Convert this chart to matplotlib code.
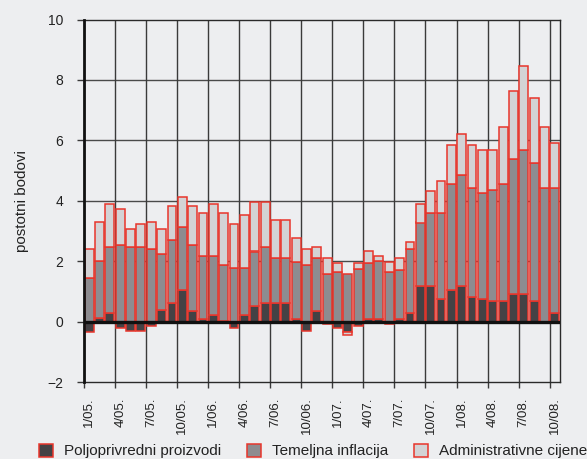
import numpy as np
import matplotlib.pyplot as plt

plt.rcParams['font.family'] = ['Liberation Sans', 'DejaVu Sans']

# monthly contributions, 1/2005 - 10/2008 (percentage points)
agri = np.array([-0.36, 0.13, 0.30, -0.22, -0.30, -0.30, -0.14, 0.37, 0.60, 1.03,
                 0.36, 0.08, 0.22, 0.02, -0.22, 0.22, 0.52, 0.60, 0.60, 0.60,
                 0.08, -0.30, 0.36, -0.08, -0.22, -0.36, -0.14, 0.08, 0.08, -0.08,
                 0.08, 0.30, 1.19, 1.19, 0.74, 1.04, 1.19, 0.82, 0.74, 0.67,
                 0.67, 0.90, 0.90, 0.67, 0.00, 0.30])
core = np.array([1.43, 1.89, 2.18, 2.54, 2.48, 2.48, 2.40, 1.87, 2.10, 2.11,
                 2.18, 2.09, 1.95, 1.85, 1.79, 1.57, 1.80, 1.87, 1.49, 1.49,
                 1.88, 1.87, 1.73, 1.57, 1.65, 1.57, 1.73, 1.87, 1.94, 1.65,
                 1.64, 2.10, 2.09, 2.39, 2.85, 3.53, 3.66, 3.60, 3.53, 3.67,
                 3.90, 4.49, 4.79, 4.57, 4.42, 4.12])
admin = np.array([0.97, 1.27, 1.41, 1.20, 0.58, 0.74, 0.89, 0.82, 1.11, 0.97,
                  1.27, 1.42, 1.72, 1.72, 1.43, 1.73, 1.65, 1.50, 1.28, 1.28,
                  0.80, 0.52, 0.38, 0.52, 0.30, -0.08, 0.22, 0.37, 0.16, 0.31,
                  0.38, 0.22, 0.60, 0.75, 1.05, 1.27, 1.36, 1.42, 1.42, 1.35,
                  1.86, 2.24, 2.77, 2.17, 2.01, 1.49])
tick_labels = ['1/05.', '4/05.', '7/05.', '10/05.', '1/06.', '4/06.', '7/06.', '10/06.',
               '1/07.', '4/07.', '7/07.', '10/07.', '1/08.', '4/08.', '7/08.', '10/08.']
names = ['Poljoprivredni proizvodi', 'Temeljna inflacija', 'Administrativne cijene']
colors = ['#444245', '#8d8c90', '#d3d3d5']

bg = '#edeef0'
red = '#e8352b'
txt = '#222222'

fig = plt.figure(figsize=(5.87, 4.59), dpi=100, facecolor=bg)
ax = fig.add_axes([84/587, 1-382/459, (560-84)/587, (382-19.5)/459])
ax.set_facecolor(bg)

n = len(agri)
x = np.arange(n) + 0.5

# excel-style stacking: positives up from 0, negatives down from 0
pos = np.zeros(n)
neg = np.zeros(n)
handles = []
for vals, c, name in zip([agri, core, admin], colors, names):
    bottom = np.where(vals >= 0, pos, neg)
    b = ax.bar(x, vals, 0.86, bottom=bottom, color=c, edgecolor=red,
               linewidth=1.1, zorder=3, label=name)
    handles.append(b)
    pos += np.clip(vals, 0, None)
    neg += np.clip(vals, None, 0)

ax.set_xlim(0, n)
ax.set_ylim(-2, 10)

# gridlines
for yv in [2, 4, 6, 8]:
    ax.axhline(yv, color='#4a4a4a', lw=1.0, zorder=1)
for xv in range(0, n, 3):
    ax.axvline(xv, color='#3a3a3a', lw=1.0, zorder=1)
ax.axhline(0, color='#111111', lw=2.4, zorder=5)

ax.set_xticks(np.arange(0, n, 3))
ax.set_xticklabels([])
ax.tick_params(axis='x', which='major', length=4, width=1.0, color='#3a3a3a')
ax.set_xticks(np.arange(0, n, 3) + 0.5, minor=True)
ax.set_xticklabels(tick_labels, minor=True, rotation=90, fontsize=9.5, color=txt)
ax.tick_params(axis='x', which='minor', length=0, pad=11)

ax.set_yticks([-2, 0, 2, 4, 6, 8, 10])
ax.set_yticklabels(['\u22122', '0', '2', '4', '6', '8', '10'], fontsize=10, color=txt)
ax.tick_params(axis='y', length=5, width=1.0, color='#3a3a3a', pad=10)

ax.set_ylabel('postotni bodovi', fontsize=11, color=txt, labelpad=13)

for s in ['top', 'right', 'bottom']:
    ax.spines[s].set_color('#2a2a2a')
    ax.spines[s].set_linewidth(1.0)
ax.spines['left'].set_color('#111111')
ax.spines['left'].set_linewidth(2.0)
ax.spines['left'].set_zorder(6)

fig.legend(handles=handles, labels=names, loc='center left',
           bbox_to_anchor=(31/587, 1-451/459), ncol=3, frameon=False,
           fontsize=11, handlelength=0.92, handleheight=0.92,
           handletextpad=0.72, columnspacing=1.7, borderpad=0,
           labelcolor=txt)

plt.savefig('out.png', dpi=100, facecolor=bg)
